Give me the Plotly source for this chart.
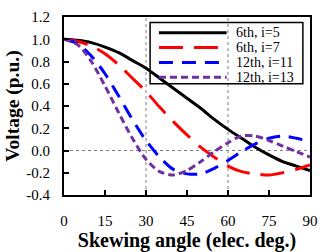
import plotly.graph_objects as go

angles = [0, 5, 10, 15, 20, 25, 30, 35, 40, 45, 50, 55, 60, 65, 70, 75, 80, 85, 90]
v_6th_i5 = [1.00, 0.99, 0.97, 0.93, 0.88, 0.81, 0.74, 0.65, 0.56, 0.47, 0.38, 0.28, 0.19, 0.11, 0.03, -0.04, -0.10, -0.14, -0.18]
v_6th_i7 = [1.00, 0.98, 0.94, 0.87, 0.77, 0.65, 0.53, 0.39, 0.26, 0.14, 0.03, -0.06, -0.14, -0.19, -0.21, -0.22, -0.20, -0.17, -0.13]
v_12th_i11 = [1.00, 0.96, 0.85, 0.69, 0.49, 0.28, 0.09, -0.06, -0.17, -0.21, -0.21, -0.16, -0.09, -0.01, 0.06, 0.11, 0.13, 0.11, 0.08]
v_12th_i13 = [1.00, 0.95, 0.80, 0.58, 0.34, 0.11, -0.08, -0.19, -0.22, -0.18, -0.10, -0.01, 0.07, 0.13, 0.13, 0.09, 0.04, -0.01, -0.06]
names = ["6th, i=5", "6th, i=7", "12th, i=11", "12th, i=13"]
x_ticks = [0, 15, 30, 45, 60, 75, 90]
y_ticks = [-0.4, -0.2, 0.0, 0.2, 0.4, 0.6, 0.8, 1.0, 1.2]

series = [v_6th_i5, v_6th_i7, v_12th_i11, v_12th_i13]
colors = ["#000000", "#ff0000", "#0000ff", "#7030a0"]
dashes = ["solid", "24px,11px", "14px,9px", "7px,4px"]

FONT = "Liberation Serif"

fig = go.Figure()
for vals, nm, c, d in zip(series, names, colors, dashes):
    fig.add_trace(go.Scatter(x=angles, y=vals, name=nm, mode="lines",
                             line=dict(color=c, width=3, dash=d, shape="spline", smoothing=0.8),
                             showlegend=False))

# dotted reference lines
for xv in [30, 60]:
    fig.add_shape(type="line", xref="x", yref="paper", x0=xv, x1=xv, y0=0, y1=1,
                  line=dict(color="#808080", width=1, dash="dot"), layer="below")
fig.add_shape(type="line", xref="paper", yref="y", x0=0, x1=1, y0=0, y1=0,
              line=dict(color="#808080", width=1, dash="dot"), layer="below")

# manual legend
fig.add_shape(type="rect", xref="paper", yref="paper", x0=0.350, x1=0.971, y0=0.625, y1=0.969,
              line=dict(color="black", width=1.5), fillcolor="rgba(0,0,0,0)")
leg_y = [0.911, 0.828, 0.745, 0.661]
for ly, nm, c, d in zip(leg_y, names, colors, dashes):
    fig.add_shape(type="line", xref="paper", yref="paper", x0=0.386, x1=0.661, y0=ly, y1=ly,
                  line=dict(color=c, width=3, dash=d))
    fig.add_annotation(xref="paper", yref="paper", x=0.690, y=ly, text=nm, showarrow=False,
                       xanchor="left", yanchor="middle", font=dict(family=FONT, size=14, color="black"))

fig.update_layout(
    width=327, height=252,
    margin=dict(l=64, r=9, t=12, b=48),
    paper_bgcolor="white", plot_bgcolor="white",
    font=dict(family=FONT, size=15, color="black"),
    xaxis=dict(range=[0, 90], tickvals=x_ticks, ticktext=[str(t) for t in x_ticks],
               ticks="inside", ticklen=5, tickwidth=1.5, tickcolor="black",
               showline=True, linecolor="black", linewidth=2, mirror=True,
               showgrid=False, zeroline=False, ticklabelstandoff=11,
               title=dict(text="<b>Skewing angle (elec. deg.)</b>", font=dict(family=FONT, size=20), standoff=0)),
    yaxis=dict(range=[-0.4, 1.2], tickvals=y_ticks, ticktext=[f"{t:.1f}" for t in y_ticks],
               ticks="inside", ticklen=5, tickwidth=1.5, tickcolor="black",
               showline=True, linecolor="black", linewidth=2, mirror=True,
               showgrid=False, zeroline=False, ticklabelstandoff=9,
               title=dict(text="<b>Voltage (p.u.)</b>", font=dict(family=FONT, size=19.5), standoff=1)),
)

fig.write_html("out.html", config={"displayModeBar": False},
               post_script="document.body.style.margin='0';")
